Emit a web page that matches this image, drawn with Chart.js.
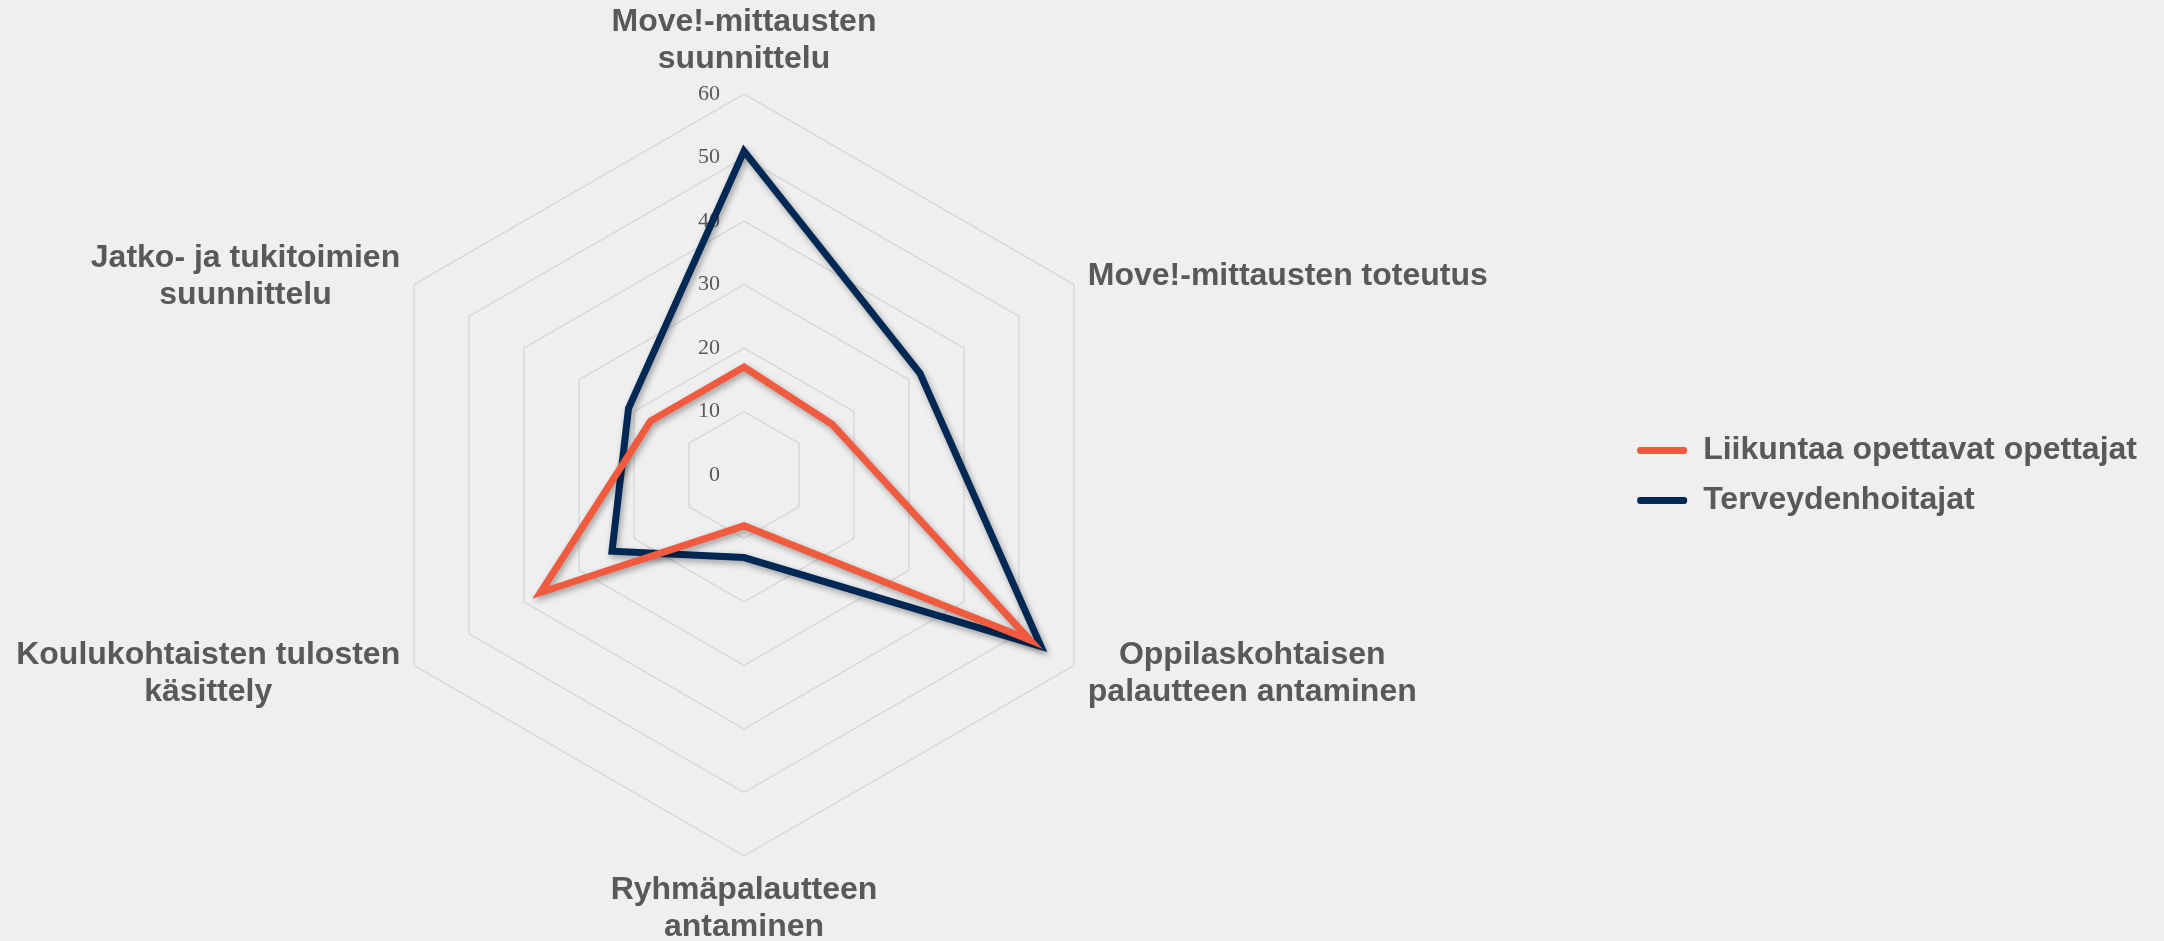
<!DOCTYPE html>
<html>
<head>
<meta charset="utf-8">
<script src="https://cdn.jsdelivr.net/npm/chart.js@4.4.1/dist/chart.umd.min.js"></script>
<style>
    body { margin: 0; background: #efefef; }
    #wrap { width: 2164px; height: 941px; }
</style>
</head>
<body>
<div id="wrap"><canvas id="radar" width="2164" height="941"></canvas></div>
<script>
// categories (each label split in lines as in the original)
var categories = [
    ['Move!-mittausten', 'suunnittelu'],
    ['Move!-mittausten toteutus'],
    ['Oppilaskohtaisen', 'palautteen antaminen'],
    ['Ryhmäpalautteen', 'antaminen'],
    ['Koulukohtaisten tulosten', 'käsittely'],
    ['Jatko- ja tukitoimien', 'suunnittelu']
];

// series
var seriesNames = ['Liikuntaa opettavat opettajat', 'Terveydenhoitajat'];
var opettajat = [17, 16, 52, 8, 37, 17];
var terveydenhoitajat = [51, 32, 54, 13, 24, 21];

// axis
var tickMin = 0;
var tickMax = 60;
var tickStep = 10;

// layout: radar centre x (the legend takes the right side)
var radarCenterX = 744;

var textGrey = '#595959';
var labelFont = 'bold 32px "Liberation Sans", Arial, sans-serif';

// shadow under the lines
var shadowPlugin = {
    id: 'lineShadow',
    beforeDatasetsDraw: function (chart) {
        var ctx = chart.ctx;
        ctx.save();
        ctx.shadowColor = 'rgba(0,0,0,0.35)';
        ctx.shadowBlur = 6;
        ctx.shadowOffsetX = 2;
        ctx.shadowOffsetY = 3;
    },
    afterDatasetsDraw: function (chart) {
        chart.ctx.restore();
    }
};

// tick numbers to the left of the vertical axis (serif, like the original)
var tickPlugin = {
    id: 'tickText',
    beforeDatasetsDraw: function (chart) {
        var scale = chart.scales.r;
        var ctx = chart.ctx;
        ctx.save();
        ctx.font = '22px "Liberation Serif", "Times New Roman", serif';
        ctx.fillStyle = textGrey;
        ctx.textAlign = 'right';
        ctx.textBaseline = 'middle';
        scale.ticks.forEach(function (t) {
            var d = scale.getDistanceFromCenterForValue(t.value);
            ctx.fillText(String(t.value), scale.xCenter - 24, scale.yCenter - d);
        });
        ctx.restore();
    }
};

// category labels, Excel style alignment
var pointLabelPlugin = {
    id: 'catLabels',
    afterDraw: function (chart) {
        var scale = chart.scales.r;
        var ctx = chart.ctx;
        var lineH = 37;
        ctx.save();
        ctx.font = labelFont;
        ctx.fillStyle = textGrey;
        ctx.textAlign = 'center';
        ctx.textBaseline = 'middle';
        categories.forEach(function (lines, i) {
            var p = scale.getPointPosition(i, scale.drawingArea + 16);
            var deg = Math.round(scale.getIndexAngle(i) * 180 / Math.PI) % 360;
            var blockW = 0;
            lines.forEach(function (l) { blockW = Math.max(blockW, ctx.measureText(l).width); });
            var blockH = lines.length * lineH;
            var cx = p.x, top;
            if (deg === 0) {
                top = p.y - blockH;
            } else if (deg === 180) {
                top = p.y;
            } else {
                top = p.y - blockH / 2;
                cx = deg < 180 ? p.x + blockW / 2 : p.x - blockW / 2;
            }
            lines.forEach(function (l, j) {
                ctx.fillText(l, cx, top + lineH * j + lineH / 2);
            });
        });
        ctx.restore();
    }
};

var ctx = document.getElementById('radar').getContext('2d');
var radarChart = new Chart(ctx, {
    type: 'radar',
    data: {
        labels: categories.map(function (c) { return c.join(' '); }),
        datasets: [{
            label: seriesNames[0],
            data: opettajat,
            borderColor: '#f05a3f',
            backgroundColor: '#f05a3f',
            borderWidth: 7,
            borderJoinStyle: 'miter',
            fill: false,
            pointRadius: 0,
            pointHoverRadius: 0
        }, {
            label: seriesNames[1],
            data: terveydenhoitajat,
            borderColor: '#002855',
            backgroundColor: '#002855',
            borderWidth: 7,
            borderJoinStyle: 'miter',
            fill: false,
            pointRadius: 0,
            pointHoverRadius: 0
        }]
    },
    options: {
        responsive: false,
        animation: false,
        layout: {
            padding: { left: 0, right: 17, top: 94, bottom: 84 }
        },
        plugins: {
            tooltip: { enabled: false },
            legend: {
                position: 'right',
                align: 'center',
                labels: {
                    boxWidth: 50,
                    boxHeight: 7,
                    padding: 18,
                    color: textGrey,
                    useBorderRadius: true,
                    borderRadius: 3,
                    font: { family: '"Liberation Sans", Arial, sans-serif', size: 32, weight: 'bold' },
                    generateLabels: function (chart) {
                        var items = Chart.defaults.plugins.legend.labels.generateLabels(chart);
                        items.forEach(function (it) { it.lineWidth = 0; });
                        return items;
                    }
                }
            }
        },
        scales: {
            r: {
                min: tickMin,
                max: tickMax,
                ticks: { stepSize: tickStep, display: false },
                grid: { color: '#d9d9d9', lineWidth: 1.5 },
                angleLines: { display: false },
                pointLabels: { display: false },
                afterFit: function (scale) {
                    scale.xCenter = radarCenterX;
                }
            }
        }
    },
    plugins: [tickPlugin, shadowPlugin, pointLabelPlugin]
});
</script>
</body>
</html>
